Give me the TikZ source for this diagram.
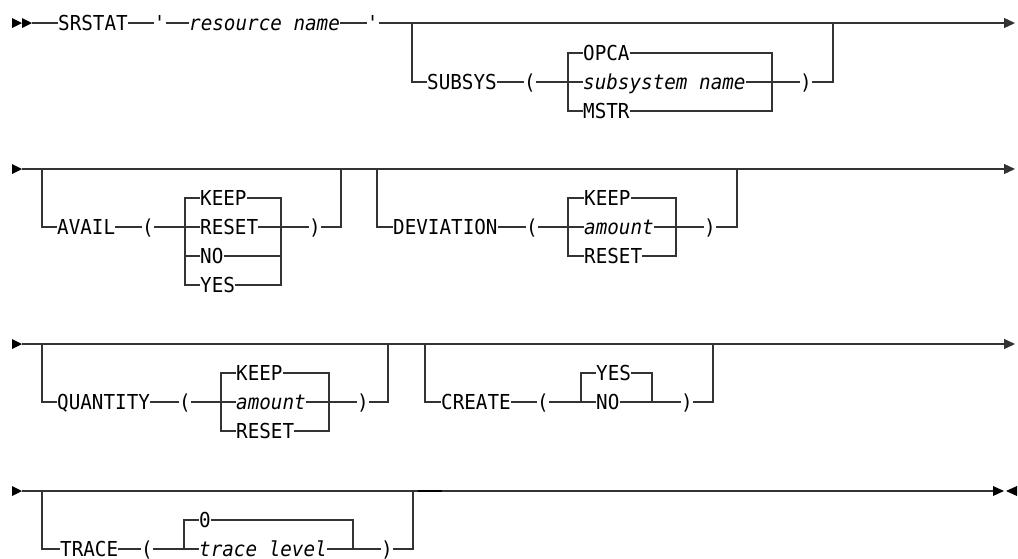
\documentclass[tikz,border=0pt]{standalone}
\usepackage{fontspec}
\setmonofont[FakeStretch=0.935]{DejaVu Sans Mono}
\usetikzlibrary{positioning}
\usetikzlibrary{arrows.meta}

\tikzset{
	rail/.style={draw=black!80, line width=1.3pt, line join=miter},
	railend/.style={rail, -{Triangle[length=11pt,width=10pt]}},
	kw/.style={anchor=west, inner sep=0pt, text height=15pt, text depth=0pt, font=\fontsize{20.6}{24}\selectfont\ttfamily},
	var/.style={kw, font=\fontsize{20.6}{24}\selectfont\ttfamily\itshape},
	sym/.style={kw, anchor=center},
	endmark/.style={fill=black}
}

\begin{document}
\begin{tikzpicture}[x=1pt,y=-1pt]
	\useasboundingbox (0,0) rectangle (1018,558);
	% row 1: SRSTAT 'resource name' [SUBSYS(...)]
	\fill[endmark] (12,18) -- (22,23) -- (12,28) -- cycle;
	\fill[endmark] (22,18) -- (32,23) -- (22,28) -- cycle;
	\coordinate (r1s) at (32,23);
	\coordinate (r1e) at (1015,23);
	\coordinate (r1a) at (412,23);
	\coordinate (r1b) at (833,23);
	\node[kw] (srstat) at (58,23) {SRSTAT};
	\node[sym] (q1) at (160,23) {\textquotesingle};
	\node[var] (rname) at (189,23) {resource name};
	\node[sym] (q2) at (373,23) {\textquotesingle};
	\draw[rail] (r1s) -- (srstat) (srstat) -- (q1) (q1) -- (rname) (rname) -- (q2);
	\draw[railend] (q2) -- (r1e);
	\node[kw] (subsys) at (427,82) {SUBSYS};
	\node[sym] (lp1) at (530,82) {(};
	\node[kw] (opca) at (583,53) {OPCA};
	\node[var] (sname) at (583,82) {subsystem name};
	\node[kw] (mstr) at (583,111) {MSTR};
	\node[sym] (rp1) at (806,82) {)};
	\coordinate (b1l) at (568,82);
	\coordinate (b1r) at (772,82);
	\draw[rail] (r1a) |- (subsys);
	\draw[rail] (subsys) -- (lp1) (lp1) -- (sname) (sname) -- (rp1);
	\draw[rail] (rp1) -| (r1b);
	\draw[rail] (opca) -| (b1l |- mstr) -- (mstr);
	\draw[rail] (opca) -| (b1r |- mstr) -- (mstr);

	% row 2: [AVAIL(...)] [DEVIATION(...)]
	\fill[endmark] (12,164) -- (22,169) -- (12,174) -- cycle;
	\coordinate (r2s) at (22,169);
	\coordinate (r2e) at (1015,169);
	\coordinate (r2a) at (42,169);
	\coordinate (r2b) at (341,169);
	\coordinate (r2c) at (377,169);
	\coordinate (r2d) at (737,169);
	\draw[railend] (r2s) -- (r2e);
	\node[kw] (avail) at (57,227) {AVAIL};
	\node[sym] (lp2) at (148,227) {(};
	\node[kw] (akeep) at (200,198) {KEEP};
	\node[kw] (areset) at (200,227) {RESET};
	\node[kw] (ano) at (200,256) {NO};
	\node[kw] (ayes) at (200,285) {YES};
	\node[sym] (rp2) at (315,227) {)};
	\coordinate (b2l) at (185,227);
	\coordinate (b2r) at (281,227);
	\draw[rail] (r2a) |- (avail);
	\draw[rail] (avail) -- (lp2) (lp2) -- (areset) (areset) -- (rp2);
	\draw[rail] (rp2) -| (r2b);
	\draw[rail] (akeep) -| (b2l |- ayes) -- (ayes);
	\draw[rail] (akeep) -| (b2r |- ayes) -- (ayes);
	\draw[rail] (ano) -- (b2l |- ano) (ano) -- (b2r |- ano);
	\node[kw] (deviation) at (393,227) {DEVIATION};
	\node[sym] (lp3) at (532,227) {(};
	\node[kw] (dkeep) at (584,198) {KEEP};
	\node[var] (damount) at (584,227) {amount};
	\node[kw] (dreset) at (584,256) {RESET};
	\node[sym] (rp3) at (710,227) {)};
	\coordinate (b3l) at (568,227);
	\coordinate (b3r) at (676,227);
	\draw[rail] (r2c) |- (deviation);
	\draw[rail] (deviation) -- (lp3) (lp3) -- (damount) (damount) -- (rp3);
	\draw[rail] (rp3) -| (r2d);
	\draw[rail] (dkeep) -| (b3l |- dreset) -- (dreset);
	\draw[rail] (dkeep) -| (b3r |- dreset) -- (dreset);

	% row 3: [QUANTITY(...)] [CREATE(...)]
	\fill[endmark] (12,339) -- (22,344) -- (12,349) -- cycle;
	\coordinate (r3s) at (22,344);
	\coordinate (r3e) at (1015,344);
	\coordinate (r3a) at (42,344);
	\coordinate (r3b) at (388,344);
	\coordinate (r3c) at (425,344);
	\coordinate (r3d) at (713,344);
	\draw[railend] (r3s) -- (r3e);
	\node[kw] (quantity) at (57,402) {QUANTITY};
	\node[sym] (lp4) at (185,402) {(};
	\node[kw] (qkeep) at (236,373) {KEEP};
	\node[var] (qamount) at (236,402) {amount};
	\node[kw] (qreset) at (236,431) {RESET};
	\node[sym] (rp4) at (363,402) {)};
	\coordinate (b4l) at (221,402);
	\coordinate (b4r) at (329,402);
	\draw[rail] (r3a) |- (quantity);
	\draw[rail] (quantity) -- (lp4) (lp4) -- (qamount) (qamount) -- (rp4);
	\draw[rail] (rp4) -| (r3b);
	\draw[rail] (qkeep) -| (b4l |- qreset) -- (qreset);
	\draw[rail] (qkeep) -| (b4r |- qreset) -- (qreset);
	\node[kw] (create) at (441,402) {CREATE};
	\node[sym] (lp5) at (543,402) {(};
	\node[kw] (cyes) at (596,373) {YES};
	\node[kw] (cno) at (596,402) {NO};
	\node[sym] (rp5) at (687,402) {)};
	\coordinate (b5l) at (581,402);
	\coordinate (b5r) at (652,402);
	\draw[rail] (r3c) |- (create);
	\draw[rail] (create) -- (lp5) (lp5) -- (cno) (cno) -- (rp5);
	\draw[rail] (rp5) -| (r3d);
	\draw[rail] (cyes) -| (b5l);
	\draw[rail] (cyes) -| (b5r);

	% row 4: [TRACE(...)]
	\fill[endmark] (12,486) -- (22,491) -- (12,496) -- cycle;
	\fill[endmark] (993,486) -- (1004,491) -- (993,496) -- cycle;
	\fill[endmark] (1017,486) -- (1006,491) -- (1017,496) -- cycle;
	\coordinate (r4s) at (22,491);
	\coordinate (r4e) at (993,491);
	\coordinate (r4a) at (42,491);
	\coordinate (r4b) at (413,491);
	\coordinate (r4c) at (418,491);
	\coordinate (r4d) at (442,491);
	\draw[rail] (r4s) -- (r4e);
	\draw[rail, draw=black, line width=2.4pt] (r4c) -- (r4d);
	\node[kw] (trace) at (60,549) {TRACE};
	\node[sym] (lp6) at (147,549) {(};
	\node[kw] (tzero) at (199,520) {0};
	\node[var] (tlevel) at (199,549) {trace level};
	\node[sym] (rp6) at (387,549) {)};
	\coordinate (b6l) at (184,549);
	\coordinate (b6r) at (353,549);
	\draw[rail] (r4a) |- (trace);
	\draw[rail] (trace) -- (lp6) (lp6) -- (tlevel) (tlevel) -- (rp6);
	\draw[rail] (rp6) -| (r4b);
	\draw[rail] (tzero) -| (b6l);
	\draw[rail] (tzero) -| (b6r);
\end{tikzpicture}
\end{document}
